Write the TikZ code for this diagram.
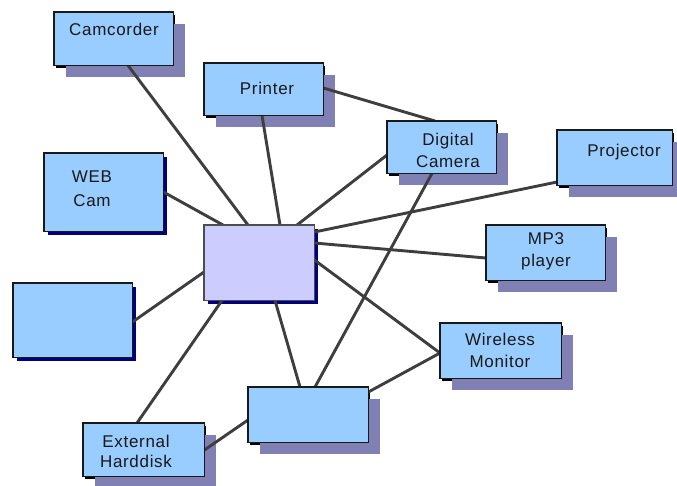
\documentclass[tikz,border=0pt]{standalone}
\usepackage{fontspec}
\setmainfont{Liberation Sans}[LetterSpace=4]
\definecolor{boxblue}{RGB}{153,204,255}
\definecolor{boxlav}{RGB}{204,204,255}
\definecolor{shpurple}{RGB}{128,128,180}
\definecolor{shnavy}{RGB}{0,0,128}
\definecolor{linegray}{RGB}{62,62,62}
\begin{document}
\begin{tikzpicture}[x=1pt,y=-1pt,
  box/.style={rectangle,inner sep=0pt,anchor=north west,draw=none,fill=none},
  psh/.style={fill=shpurple,draw=none},
  nsh/.style={fill=shnavy,draw=none},
  bsh/.style={fill=black,draw=none},
  link/.style={draw=linegray,line width=2.9pt},
  lbl/.style={font=\fontsize{17}{22}\selectfont,align=center,inner sep=0pt,text=black!90}]
\useasboundingbox (0,0) rectangle (677,485);
% shadows
\foreach \l/\t/\r/\b in {54/12/173/65, 204/63/323/115, 387/121/496/173, 557/130/672/185, 486/225/605/280, 440/323/561/378, 248/387/368/442, 83/423/204/476}{
  \fill[bsh] (\l+2,\t+3) rectangle (\r+2,\b+3);
  \fill[psh] (\l+12,\t+12) rectangle (\r+12,\b+12);
}
\foreach \l/\t/\r/\b in {44/153/163/231, 13/283/132/357, 204/225/314/300}{
  \fill[nsh] (\l+4,\t+4) rectangle (\r+4,\b+4);
}
% box nodes (outlines drawn after connectors)
\path
  (54,12)   node[box,minimum width=119pt,minimum height=53pt] (cam) {}
  (204,63)  node[box,minimum width=119pt,minimum height=52pt] (prn) {}
  (387,121) node[box,minimum width=109pt,minimum height=52pt] (dig) {}
  (557,130) node[box,minimum width=115pt,minimum height=55pt] (proj) {}
  (486,225) node[box,minimum width=119pt,minimum height=55pt] (mp3) {}
  (44,153)  node[box,minimum width=119pt,minimum height=78pt] (web) {}
  (13,283)  node[box,minimum width=119pt,minimum height=74pt] (blank) {}
  (204,225) node[box,minimum width=110pt,minimum height=75pt] (center) {}
  (440,323) node[box,minimum width=121pt,minimum height=55pt] (wire) {}
  (248,387) node[box,minimum width=120pt,minimum height=55pt] (bot) {}
  (83,423)  node[box,minimum width=121pt,minimum height=53pt] (ext) {};
% connectors
\draw[link] ([xshift=74pt]cam.south west) -- ([xshift=44pt]center.north west);
\draw[link] ([xshift=58pt]prn.south west) -- ([xshift=76pt]center.north west);
\draw[link] ([yshift=-25pt]prn.north east) -- ([xshift=48pt]dig.north west);
\draw[link] ([yshift=-34pt]dig.north west) -- ([xshift=93pt]center.north west);
\draw[link] ([xshift=45pt]dig.south west) -- ([xshift=67pt]bot.north west);
\draw[link] ([yshift=-52pt]proj.north west) -- ([yshift=-7pt]center.north east);
\draw[link] ([yshift=-33pt]mp3.north west) -- ([yshift=-18pt]center.north east);
\draw[link] ([yshift=-39pt]web.north east) -- ([xshift=19pt]center.north west);
\draw[link] ([yshift=-39pt]blank.north east) -- ([yshift=-47pt]center.north west);
\draw[link] ([xshift=54pt]ext.north west) -- ([xshift=18pt]center.south west);
\draw[link] ([yshift=-27pt]ext.north east) -- ([yshift=-33pt]bot.north west);
\draw[link] ([xshift=71pt]center.south west) -- ([xshift=52pt]bot.north west);
\draw[link] ([yshift=-35pt]center.north east) -- ([yshift=-30pt]wire.north west);
\draw[link] ([yshift=-5pt]bot.north east) -- ([yshift=-30pt]wire.north west);
% visible boxes
\foreach \n in {cam, prn, dig, proj, mp3, web, blank, wire, bot, ext}{
  \draw[line width=1.1pt,draw=black!90,fill=boxblue] (\n.north west) rectangle (\n.south east);
}
\draw[line width=1.1pt,draw=black!70,fill=boxlav] (center.north west) rectangle (center.south east);
% labels
\node[lbl] (tcam) at (114,29) {Camcorder};
\node[lbl] (tprn) at (267,88) {Printer};
\node[lbl] (tdig) at (448,150) {Digital\\Camera};
\node[lbl] (tproj) at (624,152) {Projector};
\node[lbl] (tmp3) at (546,251) {MP3\\player};
\node[lbl,font=\fontsize{17}{24}\selectfont] (tweb) at (92,189) {WEB\\Cam};
\node[lbl] (twire) at (500,350) {Wireless\\Monitor};
\node[lbl,font=\fontsize{17}{20}\selectfont] (text) at (136,451) {External\\Harddisk};
\end{tikzpicture}
\end{document}
